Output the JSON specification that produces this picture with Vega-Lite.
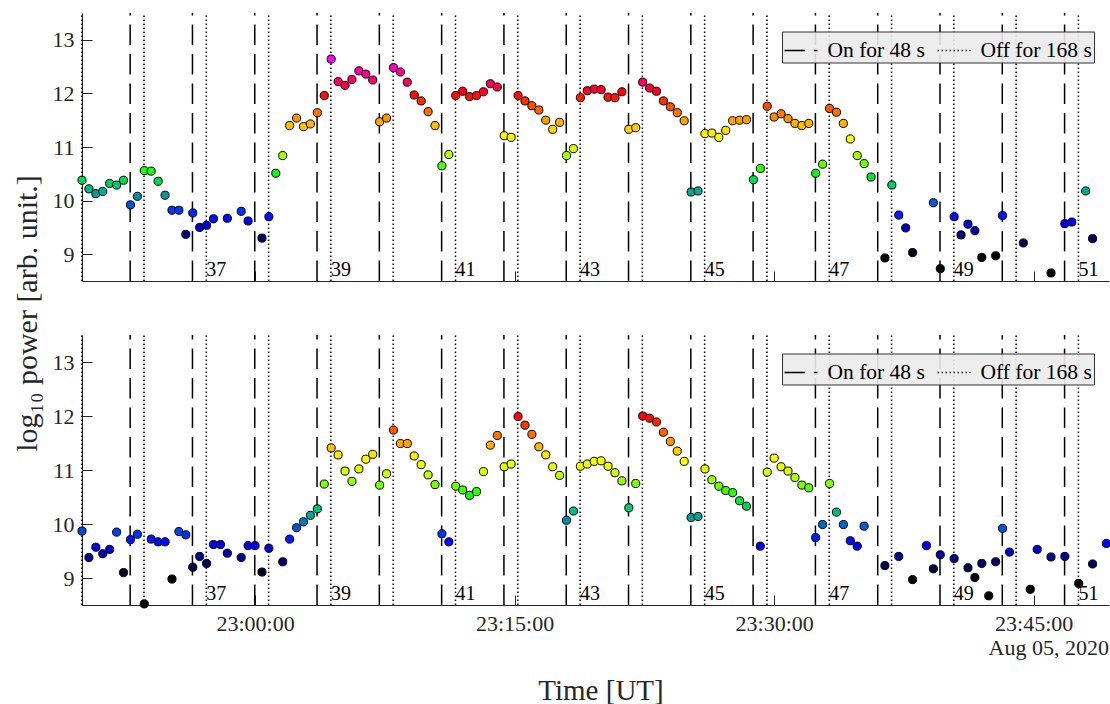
{
  "$schema": "https://vega.github.io/schema/vega-lite/v6.json",
  "background": "white",
  "padding": {"left": 12, "top": 12, "right": 0, "bottom": 0},
  "bounds": "flush",
  "spacing": 54,
  "config": {
    "view": {"stroke": null},
    "axis": {
      "domainColor": "#262626", "tickColor": "#262626", "labelColor": "#262626", "titleColor": "#262626",
      "labelFont": "Liberation Serif", "titleFont": "Liberation Serif", "labelFontSize": 22, "titleFontSize": 30,
      "titleFontWeight": "normal", "grid": false, "tickSize": -10, "domainWidth": 1, "tickWidth": 1,
      "labelFlush": false, "labelOverlap": false, "labelBound": false
    }
  },
  "datasets": {
    "cycles": [
      {"t": "2020-08-05T22:49:59Z", "kind": "Off for 168 s"},
      {"t": "2020-08-05T22:52:47Z", "kind": "On for 48 s"}, {"t": "2020-08-05T22:53:35Z", "kind": "Off for 168 s"},
      {"t": "2020-08-05T22:56:23Z", "kind": "On for 48 s"}, {"t": "2020-08-05T22:57:11Z", "kind": "Off for 168 s"},
      {"t": "2020-08-05T22:59:59Z", "kind": "On for 48 s"}, {"t": "2020-08-05T23:00:47Z", "kind": "Off for 168 s"},
      {"t": "2020-08-05T23:03:35Z", "kind": "On for 48 s"}, {"t": "2020-08-05T23:04:23Z", "kind": "Off for 168 s"},
      {"t": "2020-08-05T23:07:11Z", "kind": "On for 48 s"}, {"t": "2020-08-05T23:07:59Z", "kind": "Off for 168 s"},
      {"t": "2020-08-05T23:10:47Z", "kind": "On for 48 s"}, {"t": "2020-08-05T23:11:35Z", "kind": "Off for 168 s"},
      {"t": "2020-08-05T23:14:23Z", "kind": "On for 48 s"}, {"t": "2020-08-05T23:15:11Z", "kind": "Off for 168 s"},
      {"t": "2020-08-05T23:17:59Z", "kind": "On for 48 s"}, {"t": "2020-08-05T23:18:47Z", "kind": "Off for 168 s"},
      {"t": "2020-08-05T23:21:35Z", "kind": "On for 48 s"}, {"t": "2020-08-05T23:22:23Z", "kind": "Off for 168 s"},
      {"t": "2020-08-05T23:25:11Z", "kind": "On for 48 s"}, {"t": "2020-08-05T23:25:59Z", "kind": "Off for 168 s"},
      {"t": "2020-08-05T23:28:47Z", "kind": "On for 48 s"}, {"t": "2020-08-05T23:29:35Z", "kind": "Off for 168 s"},
      {"t": "2020-08-05T23:32:23Z", "kind": "On for 48 s"}, {"t": "2020-08-05T23:33:11Z", "kind": "Off for 168 s"},
      {"t": "2020-08-05T23:35:59Z", "kind": "On for 48 s"}, {"t": "2020-08-05T23:36:47Z", "kind": "Off for 168 s"},
      {"t": "2020-08-05T23:39:35Z", "kind": "On for 48 s"}, {"t": "2020-08-05T23:40:23Z", "kind": "Off for 168 s"},
      {"t": "2020-08-05T23:43:11Z", "kind": "On for 48 s"}, {"t": "2020-08-05T23:43:59Z", "kind": "Off for 168 s"},
      {"t": "2020-08-05T23:46:47Z", "kind": "On for 48 s"}, {"t": "2020-08-05T23:47:35Z", "kind": "Off for 168 s"}
    ],
    "labels": [
      {"t": "2020-08-05T22:57:11Z", "cyc": "37"}, {"t": "2020-08-05T23:04:23Z", "cyc": "39"},
      {"t": "2020-08-05T23:11:35Z", "cyc": "41"}, {"t": "2020-08-05T23:18:47Z", "cyc": "43"},
      {"t": "2020-08-05T23:25:59Z", "cyc": "45"}, {"t": "2020-08-05T23:33:11Z", "cyc": "47"},
      {"t": "2020-08-05T23:40:23Z", "cyc": "49"}, {"t": "2020-08-05T23:47:35Z", "cyc": "51"}
    ],
    "date": [{"t": "2020-08-05T23:49:21Z", "label": "Aug 05, 2020"}],
    "top": [
      {"t": "2020-08-05T22:50:00Z", "v": 10.38}, {"t": "2020-08-05T22:50:24Z", "v": 10.22}, {"t": "2020-08-05T22:50:48Z", "v": 10.13},
      {"t": "2020-08-05T22:51:12Z", "v": 10.17}, {"t": "2020-08-05T22:51:36Z", "v": 10.32}, {"t": "2020-08-05T22:52:00Z", "v": 10.29},
      {"t": "2020-08-05T22:52:24Z", "v": 10.38}, {"t": "2020-08-05T22:52:48Z", "v": 9.92}, {"t": "2020-08-05T22:53:12Z", "v": 10.08},
      {"t": "2020-08-05T22:53:36Z", "v": 10.56}, {"t": "2020-08-05T22:54:00Z", "v": 10.55}, {"t": "2020-08-05T22:54:24Z", "v": 10.36},
      {"t": "2020-08-05T22:54:48Z", "v": 10.10}, {"t": "2020-08-05T22:55:12Z", "v": 9.82}, {"t": "2020-08-05T22:55:36Z", "v": 9.82},
      {"t": "2020-08-05T22:56:00Z", "v": 9.37}, {"t": "2020-08-05T22:56:24Z", "v": 9.77}, {"t": "2020-08-05T22:56:48Z", "v": 9.50},
      {"t": "2020-08-05T22:57:12Z", "v": 9.54}, {"t": "2020-08-05T22:57:36Z", "v": 9.66}, {"t": "2020-08-05T22:58:24Z", "v": 9.67},
      {"t": "2020-08-05T22:59:12Z", "v": 9.80}, {"t": "2020-08-05T22:59:36Z", "v": 9.62}, {"t": "2020-08-05T23:00:24Z", "v": 9.30},
      {"t": "2020-08-05T23:00:48Z", "v": 9.70}, {"t": "2020-08-05T23:01:12Z", "v": 10.51}, {"t": "2020-08-05T23:01:36Z", "v": 10.84},
      {"t": "2020-08-05T23:02:00Z", "v": 11.40}, {"t": "2020-08-05T23:02:24Z", "v": 11.54}, {"t": "2020-08-05T23:02:48Z", "v": 11.38},
      {"t": "2020-08-05T23:03:12Z", "v": 11.43}, {"t": "2020-08-05T23:03:36Z", "v": 11.64}, {"t": "2020-08-05T23:04:00Z", "v": 11.96},
      {"t": "2020-08-05T23:04:24Z", "v": 12.64}, {"t": "2020-08-05T23:04:48Z", "v": 12.22}, {"t": "2020-08-05T23:05:12Z", "v": 12.15},
      {"t": "2020-08-05T23:05:36Z", "v": 12.26}, {"t": "2020-08-05T23:06:00Z", "v": 12.42}, {"t": "2020-08-05T23:06:24Z", "v": 12.36},
      {"t": "2020-08-05T23:06:48Z", "v": 12.25}, {"t": "2020-08-05T23:07:12Z", "v": 11.47}, {"t": "2020-08-05T23:07:36Z", "v": 11.54},
      {"t": "2020-08-05T23:08:00Z", "v": 12.48}, {"t": "2020-08-05T23:08:24Z", "v": 12.40}, {"t": "2020-08-05T23:08:48Z", "v": 12.21},
      {"t": "2020-08-05T23:09:12Z", "v": 11.97}, {"t": "2020-08-05T23:09:36Z", "v": 11.86}, {"t": "2020-08-05T23:10:00Z", "v": 11.66},
      {"t": "2020-08-05T23:10:24Z", "v": 11.40}, {"t": "2020-08-05T23:10:48Z", "v": 10.65}, {"t": "2020-08-05T23:11:12Z", "v": 10.86},
      {"t": "2020-08-05T23:11:36Z", "v": 11.96}, {"t": "2020-08-05T23:12:00Z", "v": 12.04}, {"t": "2020-08-05T23:12:24Z", "v": 11.94},
      {"t": "2020-08-05T23:12:48Z", "v": 11.96}, {"t": "2020-08-05T23:13:12Z", "v": 12.03}, {"t": "2020-08-05T23:13:36Z", "v": 12.18},
      {"t": "2020-08-05T23:14:00Z", "v": 12.12}, {"t": "2020-08-05T23:14:24Z", "v": 11.21}, {"t": "2020-08-05T23:14:48Z", "v": 11.18},
      {"t": "2020-08-05T23:15:12Z", "v": 11.96}, {"t": "2020-08-05T23:15:36Z", "v": 11.86}, {"t": "2020-08-05T23:16:00Z", "v": 11.77},
      {"t": "2020-08-05T23:16:24Z", "v": 11.69}, {"t": "2020-08-05T23:16:48Z", "v": 11.50}, {"t": "2020-08-05T23:17:12Z", "v": 11.33},
      {"t": "2020-08-05T23:17:36Z", "v": 11.46}, {"t": "2020-08-05T23:18:00Z", "v": 10.84}, {"t": "2020-08-05T23:18:24Z", "v": 10.97},
      {"t": "2020-08-05T23:18:48Z", "v": 11.92}, {"t": "2020-08-05T23:19:12Z", "v": 12.05}, {"t": "2020-08-05T23:19:36Z", "v": 12.08},
      {"t": "2020-08-05T23:20:00Z", "v": 12.07}, {"t": "2020-08-05T23:20:24Z", "v": 11.93}, {"t": "2020-08-05T23:20:48Z", "v": 11.92},
      {"t": "2020-08-05T23:21:12Z", "v": 12.03}, {"t": "2020-08-05T23:21:36Z", "v": 11.33}, {"t": "2020-08-05T23:22:00Z", "v": 11.36},
      {"t": "2020-08-05T23:22:24Z", "v": 12.21}, {"t": "2020-08-05T23:22:48Z", "v": 12.10}, {"t": "2020-08-05T23:23:12Z", "v": 12.04},
      {"t": "2020-08-05T23:23:36Z", "v": 11.86}, {"t": "2020-08-05T23:24:00Z", "v": 11.75}, {"t": "2020-08-05T23:24:24Z", "v": 11.64},
      {"t": "2020-08-05T23:24:48Z", "v": 11.49}, {"t": "2020-08-05T23:25:12Z", "v": 10.16}, {"t": "2020-08-05T23:25:36Z", "v": 10.18},
      {"t": "2020-08-05T23:26:00Z", "v": 11.25}, {"t": "2020-08-05T23:26:24Z", "v": 11.26}, {"t": "2020-08-05T23:26:48Z", "v": 11.18},
      {"t": "2020-08-05T23:27:12Z", "v": 11.31}, {"t": "2020-08-05T23:27:36Z", "v": 11.49}, {"t": "2020-08-05T23:28:00Z", "v": 11.50},
      {"t": "2020-08-05T23:28:24Z", "v": 11.51}, {"t": "2020-08-05T23:28:48Z", "v": 10.39}, {"t": "2020-08-05T23:29:12Z", "v": 10.60},
      {"t": "2020-08-05T23:29:36Z", "v": 11.76}, {"t": "2020-08-05T23:30:00Z", "v": 11.56}, {"t": "2020-08-05T23:30:24Z", "v": 11.62},
      {"t": "2020-08-05T23:30:48Z", "v": 11.53}, {"t": "2020-08-05T23:31:12Z", "v": 11.44}, {"t": "2020-08-05T23:31:36Z", "v": 11.40},
      {"t": "2020-08-05T23:32:00Z", "v": 11.44}, {"t": "2020-08-05T23:32:24Z", "v": 10.51}, {"t": "2020-08-05T23:32:48Z", "v": 10.68},
      {"t": "2020-08-05T23:33:12Z", "v": 11.72}, {"t": "2020-08-05T23:33:36Z", "v": 11.65}, {"t": "2020-08-05T23:34:00Z", "v": 11.44},
      {"t": "2020-08-05T23:34:24Z", "v": 11.15}, {"t": "2020-08-05T23:34:48Z", "v": 10.84}, {"t": "2020-08-05T23:35:12Z", "v": 10.69},
      {"t": "2020-08-05T23:35:36Z", "v": 10.44}, {"t": "2020-08-05T23:36:24Z", "v": 8.93}, {"t": "2020-08-05T23:36:48Z", "v": 10.29},
      {"t": "2020-08-05T23:37:12Z", "v": 9.73}, {"t": "2020-08-05T23:37:36Z", "v": 9.49}, {"t": "2020-08-05T23:38:00Z", "v": 9.03},
      {"t": "2020-08-05T23:39:12Z", "v": 9.96}, {"t": "2020-08-05T23:39:36Z", "v": 8.73}, {"t": "2020-08-05T23:40:24Z", "v": 9.70},
      {"t": "2020-08-05T23:40:48Z", "v": 9.36}, {"t": "2020-08-05T23:41:12Z", "v": 9.56}, {"t": "2020-08-05T23:41:36Z", "v": 9.44},
      {"t": "2020-08-05T23:42:00Z", "v": 8.94}, {"t": "2020-08-05T23:42:48Z", "v": 8.97}, {"t": "2020-08-05T23:43:12Z", "v": 9.72},
      {"t": "2020-08-05T23:44:24Z", "v": 9.21}, {"t": "2020-08-05T23:46:00Z", "v": 8.65}, {"t": "2020-08-05T23:46:48Z", "v": 9.57},
      {"t": "2020-08-05T23:47:12Z", "v": 9.60}, {"t": "2020-08-05T23:48:00Z", "v": 10.18}, {"t": "2020-08-05T23:48:24Z", "v": 9.29}
    ],
    "bottom": [
      {"t": "2020-08-05T22:50:00Z", "v": 9.87}, {"t": "2020-08-05T22:50:24Z", "v": 9.38}, {"t": "2020-08-05T22:50:48Z", "v": 9.57},
      {"t": "2020-08-05T22:51:12Z", "v": 9.45}, {"t": "2020-08-05T22:51:36Z", "v": 9.53}, {"t": "2020-08-05T22:52:00Z", "v": 9.85},
      {"t": "2020-08-05T22:52:24Z", "v": 9.10}, {"t": "2020-08-05T22:52:48Z", "v": 9.71}, {"t": "2020-08-05T22:53:12Z", "v": 9.81},
      {"t": "2020-08-05T22:53:36Z", "v": 8.52}, {"t": "2020-08-05T22:54:00Z", "v": 9.72}, {"t": "2020-08-05T22:54:24Z", "v": 9.67},
      {"t": "2020-08-05T22:54:48Z", "v": 9.67}, {"t": "2020-08-05T22:55:12Z", "v": 8.98}, {"t": "2020-08-05T22:55:36Z", "v": 9.86},
      {"t": "2020-08-05T22:56:00Z", "v": 9.80}, {"t": "2020-08-05T22:56:24Z", "v": 9.20}, {"t": "2020-08-05T22:56:48Z", "v": 9.40},
      {"t": "2020-08-05T22:57:12Z", "v": 9.27}, {"t": "2020-08-05T22:57:36Z", "v": 9.62}, {"t": "2020-08-05T22:58:00Z", "v": 9.62},
      {"t": "2020-08-05T22:58:24Z", "v": 9.46}, {"t": "2020-08-05T22:59:12Z", "v": 9.38}, {"t": "2020-08-05T22:59:36Z", "v": 9.60},
      {"t": "2020-08-05T23:00:00Z", "v": 9.60}, {"t": "2020-08-05T23:00:24Z", "v": 9.11}, {"t": "2020-08-05T23:00:48Z", "v": 9.55},
      {"t": "2020-08-05T23:01:36Z", "v": 9.30}, {"t": "2020-08-05T23:02:00Z", "v": 9.72}, {"t": "2020-08-05T23:02:24Z", "v": 9.93},
      {"t": "2020-08-05T23:02:48Z", "v": 10.04}, {"t": "2020-08-05T23:03:12Z", "v": 10.16}, {"t": "2020-08-05T23:03:36Z", "v": 10.28},
      {"t": "2020-08-05T23:04:00Z", "v": 10.74}, {"t": "2020-08-05T23:04:24Z", "v": 11.41}, {"t": "2020-08-05T23:04:48Z", "v": 11.28},
      {"t": "2020-08-05T23:05:12Z", "v": 10.98}, {"t": "2020-08-05T23:05:36Z", "v": 10.79}, {"t": "2020-08-05T23:06:00Z", "v": 11.02},
      {"t": "2020-08-05T23:06:24Z", "v": 11.20}, {"t": "2020-08-05T23:06:48Z", "v": 11.29}, {"t": "2020-08-05T23:07:12Z", "v": 10.72},
      {"t": "2020-08-05T23:07:36Z", "v": 10.93}, {"t": "2020-08-05T23:08:00Z", "v": 11.74}, {"t": "2020-08-05T23:08:24Z", "v": 11.49},
      {"t": "2020-08-05T23:08:48Z", "v": 11.49}, {"t": "2020-08-05T23:09:12Z", "v": 11.26}, {"t": "2020-08-05T23:09:36Z", "v": 11.10},
      {"t": "2020-08-05T23:10:00Z", "v": 10.91}, {"t": "2020-08-05T23:10:24Z", "v": 10.73}, {"t": "2020-08-05T23:10:48Z", "v": 9.82},
      {"t": "2020-08-05T23:11:12Z", "v": 9.67}, {"t": "2020-08-05T23:11:36Z", "v": 10.70}, {"t": "2020-08-05T23:12:00Z", "v": 10.63},
      {"t": "2020-08-05T23:12:24Z", "v": 10.53}, {"t": "2020-08-05T23:12:48Z", "v": 10.60}, {"t": "2020-08-05T23:13:12Z", "v": 10.97},
      {"t": "2020-08-05T23:13:36Z", "v": 11.46}, {"t": "2020-08-05T23:14:00Z", "v": 11.64}, {"t": "2020-08-05T23:14:24Z", "v": 11.06},
      {"t": "2020-08-05T23:14:48Z", "v": 11.11}, {"t": "2020-08-05T23:15:12Z", "v": 11.99}, {"t": "2020-08-05T23:15:36Z", "v": 11.83},
      {"t": "2020-08-05T23:16:00Z", "v": 11.66}, {"t": "2020-08-05T23:16:24Z", "v": 11.43}, {"t": "2020-08-05T23:16:48Z", "v": 11.28},
      {"t": "2020-08-05T23:17:12Z", "v": 11.06}, {"t": "2020-08-05T23:17:36Z", "v": 10.90}, {"t": "2020-08-05T23:18:00Z", "v": 10.07},
      {"t": "2020-08-05T23:18:24Z", "v": 10.24}, {"t": "2020-08-05T23:18:48Z", "v": 11.07}, {"t": "2020-08-05T23:19:12Z", "v": 11.11},
      {"t": "2020-08-05T23:19:36Z", "v": 11.16}, {"t": "2020-08-05T23:20:00Z", "v": 11.17}, {"t": "2020-08-05T23:20:24Z", "v": 11.07},
      {"t": "2020-08-05T23:20:48Z", "v": 10.95}, {"t": "2020-08-05T23:21:12Z", "v": 10.80}, {"t": "2020-08-05T23:21:36Z", "v": 10.30},
      {"t": "2020-08-05T23:22:00Z", "v": 10.75}, {"t": "2020-08-05T23:22:24Z", "v": 12.00}, {"t": "2020-08-05T23:22:48Z", "v": 11.96},
      {"t": "2020-08-05T23:23:12Z", "v": 11.89}, {"t": "2020-08-05T23:23:36Z", "v": 11.70}, {"t": "2020-08-05T23:24:00Z", "v": 11.53},
      {"t": "2020-08-05T23:24:24Z", "v": 11.35}, {"t": "2020-08-05T23:24:48Z", "v": 11.16}, {"t": "2020-08-05T23:25:12Z", "v": 10.12},
      {"t": "2020-08-05T23:25:36Z", "v": 10.14}, {"t": "2020-08-05T23:26:00Z", "v": 11.02}, {"t": "2020-08-05T23:26:24Z", "v": 10.82},
      {"t": "2020-08-05T23:26:48Z", "v": 10.70}, {"t": "2020-08-05T23:27:12Z", "v": 10.62}, {"t": "2020-08-05T23:27:36Z", "v": 10.58},
      {"t": "2020-08-05T23:28:00Z", "v": 10.43}, {"t": "2020-08-05T23:28:24Z", "v": 10.33}, {"t": "2020-08-05T23:29:12Z", "v": 9.59},
      {"t": "2020-08-05T23:29:36Z", "v": 10.96}, {"t": "2020-08-05T23:30:00Z", "v": 11.22}, {"t": "2020-08-05T23:30:24Z", "v": 11.06},
      {"t": "2020-08-05T23:30:48Z", "v": 10.98}, {"t": "2020-08-05T23:31:12Z", "v": 10.86}, {"t": "2020-08-05T23:31:36Z", "v": 10.72},
      {"t": "2020-08-05T23:32:00Z", "v": 10.67}, {"t": "2020-08-05T23:32:24Z", "v": 9.75}, {"t": "2020-08-05T23:32:48Z", "v": 9.99},
      {"t": "2020-08-05T23:33:12Z", "v": 10.75}, {"t": "2020-08-05T23:33:36Z", "v": 10.22}, {"t": "2020-08-05T23:34:00Z", "v": 9.99},
      {"t": "2020-08-05T23:34:24Z", "v": 9.69}, {"t": "2020-08-05T23:34:48Z", "v": 9.59}, {"t": "2020-08-05T23:35:12Z", "v": 9.96},
      {"t": "2020-08-05T23:36:24Z", "v": 9.23}, {"t": "2020-08-05T23:37:12Z", "v": 9.40}, {"t": "2020-08-05T23:38:00Z", "v": 8.97},
      {"t": "2020-08-05T23:38:48Z", "v": 9.60}, {"t": "2020-08-05T23:39:12Z", "v": 9.17}, {"t": "2020-08-05T23:39:36Z", "v": 9.43},
      {"t": "2020-08-05T23:40:24Z", "v": 9.36}, {"t": "2020-08-05T23:41:12Z", "v": 9.19}, {"t": "2020-08-05T23:41:36Z", "v": 9.01},
      {"t": "2020-08-05T23:42:00Z", "v": 9.27}, {"t": "2020-08-05T23:42:24Z", "v": 8.67}, {"t": "2020-08-05T23:42:48Z", "v": 9.30},
      {"t": "2020-08-05T23:43:12Z", "v": 9.92}, {"t": "2020-08-05T23:43:36Z", "v": 9.48}, {"t": "2020-08-05T23:44:48Z", "v": 8.79},
      {"t": "2020-08-05T23:45:12Z", "v": 9.53}, {"t": "2020-08-05T23:46:00Z", "v": 9.39}, {"t": "2020-08-05T23:46:48Z", "v": 9.40},
      {"t": "2020-08-05T23:47:36Z", "v": 8.90}, {"t": "2020-08-05T23:48:24Z", "v": 9.26}, {"t": "2020-08-05T23:49:12Z", "v": 9.64}
    ]
  },
  "resolve": {"scale": {"strokeDash": "independent"}, "legend": {"strokeDash": "independent"}},
  "vconcat": [
    {
      "width": 1027,
      "height": 268,
      "encoding": {
        "x": {
          "field": "t", "type": "temporal",
          "scale": {"type": "utc", "domain": [
            {"year": 2020, "month": 8, "date": 5, "hours": 22, "minutes": 50, "seconds": 0, "utc": true},
            {"year": 2020, "month": 8, "date": 5, "hours": 23, "minutes": 49, "seconds": 21, "utc": true}]},
          "axis": {
            "values": [
              {"year": 2020, "month": 8, "date": 5, "hours": 23, "minutes": 0, "utc": true},
              {"year": 2020, "month": 8, "date": 5, "hours": 23, "minutes": 15, "utc": true},
              {"year": 2020, "month": 8, "date": 5, "hours": 23, "minutes": 30, "utc": true},
              {"year": 2020, "month": 8, "date": 5, "hours": 23, "minutes": 45, "utc": true}],
            "labels": false, "title": null
          }
        }
      },
      "layer": [
        {
          "data": {"name": "cycles"},
          "mark": {"type": "rule", "strokeWidth": 1.5, "color": "black"},
          "encoding": {
            "y": {"datum": 8.5}, "y2": {"datum": 13.5},
            "strokeDash": {
              "field": "kind", "type": "nominal",
              "scale": {"domain": ["On for 48 s", "Off for 168 s"], "range": [[20.5, 9], [1.5, 2.5]]},
              "legend": {
                "orient": "none", "legendX": 700, "legendY": 18.5, "direction": "horizontal", "columns": 2,
                "title": null, "symbolType": "stroke", "symbolSize": 1089, "symbolStrokeWidth": 1.5,
                "symbolStrokeColor": "black", "symbolFillColor": "transparent",
                "labelFont": "Liberation Serif", "labelFontSize": 21.5, "labelColor": "black", "labelLimit": 400,
                "labelOffset": 9, "columnPadding": 9, "padding": 1.5,
                "fillColor": "rgba(235,235,235,0.9)", "strokeColor": "#333333"
              }
            }
          }
        },
        {
          "data": {"name": "top"},
          "mark": {"type": "circle", "size": 66, "stroke": "black", "strokeWidth": 1, "opacity": 1},
          "encoding": {
            "y": {
              "field": "v", "type": "quantitative",
              "scale": {"domain": [8.5, 13.5], "nice": false, "zero": false},
              "axis": {
                "values": [9, 10, 11, 12, 13], "labelPadding": 18,
                "title": "log₁₀ power [arb. unit.]", "titleX": -55, "titleY": 300, "titleAngle": -90,
                "titleAlign": "center", "titleBaseline": "middle", "titleFontSize": 30
              }
            },
            "fill": {
              "field": "v", "type": "quantitative", "legend": null,
              "scale": {
                "type": "linear", "interpolate": "rgb", "clamp": true,
                "domain": [8.9, 9.1, 9.2, 9.3, 9.4, 9.5, 9.6, 9.7, 9.8, 9.9, 10.0, 10.1, 10.2, 10.3, 10.4, 10.5, 10.6, 10.7, 10.8, 10.9, 11.0, 11.2, 11.3, 11.4, 11.5, 11.6, 11.7, 11.8, 11.9, 12.0, 12.2, 12.4, 12.6],
                "range": ["#000000", "#000020", "#000040", "#000068", "#000095", "#0000c0", "#0000ee", "#0010ff", "#0030f0", "#0050e0", "#0068c8", "#0098a0", "#00b488", "#00cc70", "#00e048", "#10f020", "#30ff00", "#70ff00", "#98ff00", "#c0ff00", "#e0ff00", "#ffff00", "#ffe000", "#ffc000", "#ffa000", "#ff8000", "#ff6000", "#ff4000", "#ff2000", "#ff0010", "#ff0060", "#ff00a0", "#ff00f0"]
              }
            }
          }
        },
        {
          "data": {"name": "labels"},
          "mark": {"type": "text", "align": "left", "baseline": "alphabetic", "dy": -5, "font": "Liberation Serif", "fontSize": 20, "color": "black"},
          "encoding": {"y": {"datum": 8.5}, "text": {"field": "cyc", "type": "nominal"}}
        }
      ]
    },
    {
      "width": 1027,
      "height": 270,
      "encoding": {
        "x": {
          "field": "t", "type": "temporal",
          "scale": {"type": "utc", "domain": [
            {"year": 2020, "month": 8, "date": 5, "hours": 22, "minutes": 50, "seconds": 0, "utc": true},
            {"year": 2020, "month": 8, "date": 5, "hours": 23, "minutes": 49, "seconds": 21, "utc": true}]},
          "axis": {
            "values": [
              {"year": 2020, "month": 8, "date": 5, "hours": 23, "minutes": 0, "utc": true},
              {"year": 2020, "month": 8, "date": 5, "hours": 23, "minutes": 15, "utc": true},
              {"year": 2020, "month": 8, "date": 5, "hours": 23, "minutes": 30, "utc": true},
              {"year": 2020, "month": 8, "date": 5, "hours": 23, "minutes": 45, "utc": true}],
            "format": "%H:%M:%S", "labelPadding": 18.8,
            "title": "Time [UT]", "titleX": 518.5, "titleY": 94, "titleAlign": "center",
            "titleBaseline": "alphabetic", "titleFontSize": 29
          }
        }
      },
      "layer": [
        {
          "data": {"name": "cycles"},
          "mark": {"type": "rule", "strokeWidth": 1.5, "color": "black"},
          "encoding": {
            "y": {"datum": 8.5}, "y2": {"datum": 13.5},
            "strokeDash": {
              "field": "kind", "type": "nominal",
              "scale": {"domain": ["On for 48 s", "Off for 168 s"], "range": [[20.5, 9], [1.5, 2.5]]},
              "legend": {
                "orient": "none", "legendX": 700, "legendY": 18.5, "direction": "horizontal", "columns": 2,
                "title": null, "symbolType": "stroke", "symbolSize": 1089, "symbolStrokeWidth": 1.5,
                "symbolStrokeColor": "black", "symbolFillColor": "transparent",
                "labelFont": "Liberation Serif", "labelFontSize": 21.5, "labelColor": "black", "labelLimit": 400,
                "labelOffset": 9, "columnPadding": 9, "padding": 1.5,
                "fillColor": "rgba(235,235,235,0.9)", "strokeColor": "#333333"
              }
            }
          }
        },
        {
          "data": {"name": "bottom"},
          "mark": {"type": "circle", "size": 66, "stroke": "black", "strokeWidth": 1, "opacity": 1},
          "encoding": {
            "y": {
              "field": "v", "type": "quantitative",
              "scale": {"domain": [8.5, 13.5], "nice": false, "zero": false},
              "axis": {"values": [9, 10, 11, 12, 13], "labelPadding": 18, "title": null}
            },
            "fill": {
              "field": "v", "type": "quantitative", "legend": null,
              "scale": {
                "type": "linear", "interpolate": "rgb", "clamp": true,
                "domain": [8.9, 9.1, 9.2, 9.3, 9.4, 9.5, 9.6, 9.7, 9.8, 9.9, 10.0, 10.1, 10.2, 10.3, 10.4, 10.5, 10.6, 10.7, 10.8, 10.9, 11.0, 11.2, 11.3, 11.4, 11.5, 11.6, 11.7, 11.8, 11.9, 12.0, 12.2, 12.4, 12.6],
                "range": ["#000000", "#000020", "#000040", "#000068", "#000095", "#0000c0", "#0000ee", "#0010ff", "#0030f0", "#0050e0", "#0068c8", "#0098a0", "#00b488", "#00cc70", "#00e048", "#10f020", "#30ff00", "#70ff00", "#98ff00", "#c0ff00", "#e0ff00", "#ffff00", "#ffe000", "#ffc000", "#ffa000", "#ff8000", "#ff6000", "#ff4000", "#ff2000", "#ff0010", "#ff0060", "#ff00a0", "#ff00f0"]
              }
            }
          }
        },
        {
          "data": {"name": "labels"},
          "mark": {"type": "text", "align": "left", "baseline": "alphabetic", "dy": -5, "font": "Liberation Serif", "fontSize": 20, "color": "black"},
          "encoding": {"y": {"datum": 8.5}, "text": {"field": "cyc", "type": "nominal"}}
        },
        {
          "data": {"name": "date"},
          "mark": {"type": "text", "align": "right", "baseline": "alphabetic", "dy": 50, "font": "Liberation Serif", "fontSize": 22, "color": "#262626"},
          "encoding": {"y": {"datum": 8.5}, "text": {"field": "label", "type": "nominal"}}
        }
      ]
    }
  ]
}
